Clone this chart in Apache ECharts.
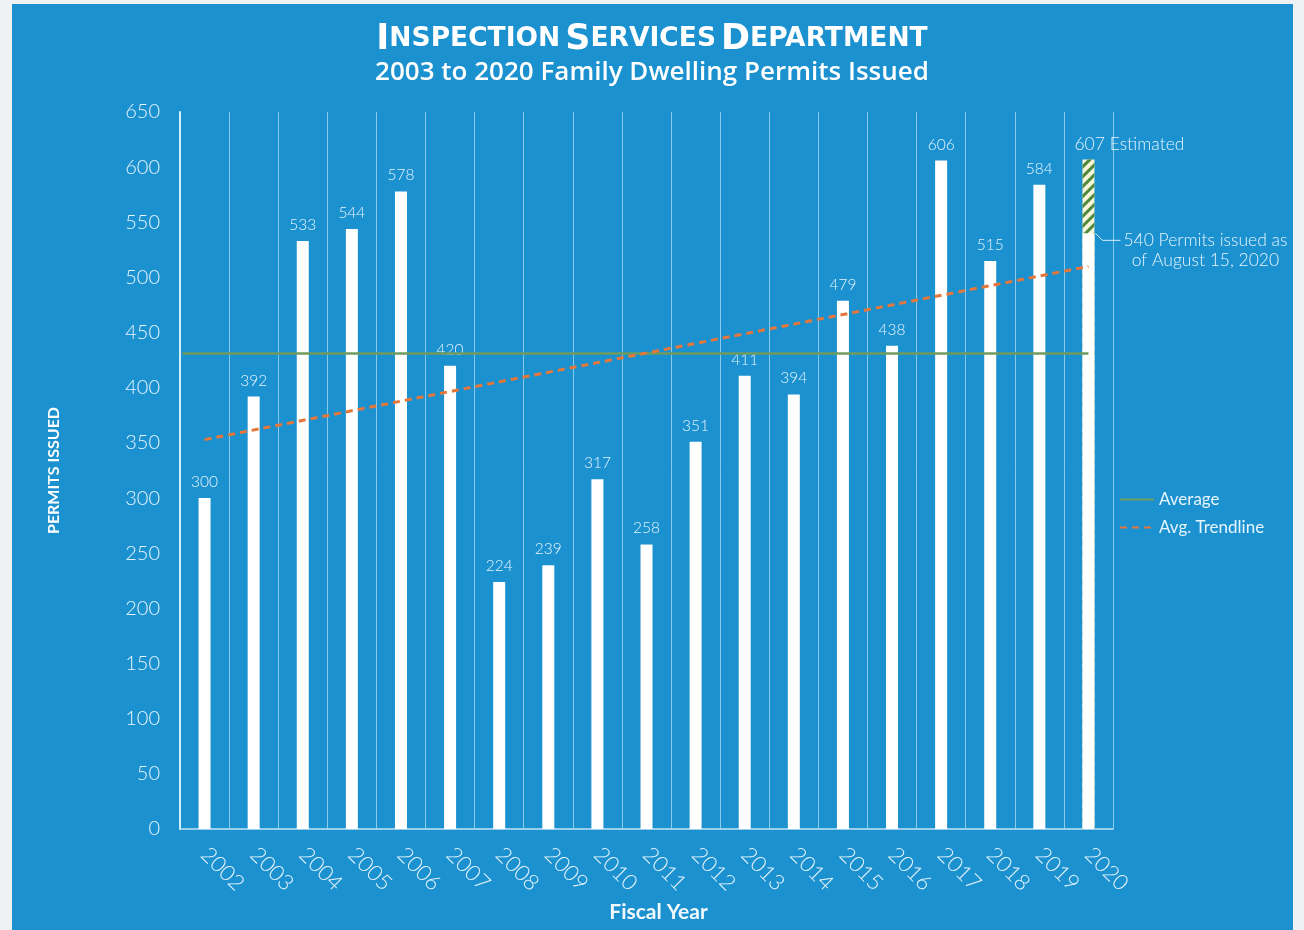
<!DOCTYPE html>
<html>
<head>
<meta charset="utf-8">
<title>Inspection Services Department – Family Dwelling Permits</title>
<script src="https://cdn.jsdelivr.net/npm/echarts@6/dist/echarts.min.js"></script>
<style>
  html, body { margin: 0; padding: 0; background: #eef2f5; overflow: hidden; }
  #panel { position: absolute; left: 12px; top: 4px; width: 1281px; height: 926px; background: #1b91d0; }
  #chart { position: absolute; left: 0; top: 0; width: 1304px; height: 930px; }
</style>
</head>
<body>
<div id="panel"></div>
<div id="chart"></div>
<script>
// Fiscal years shown on the x axis
const years = ['2002','2003','2004','2005','2006','2007','2008','2009','2010','2011',
               '2012','2013','2014','2015','2016','2017','2018','2019','2020'];
// Permits issued per fiscal year (2020 = issued so far)
const permits = [300, 392, 533, 544, 578, 420, 224, 239, 317, 258,
                 351, 411, 394, 479, 438, 606, 515, 584, 540];
// Year-end estimate for the current fiscal year
const estimated = ['-', '-', '-', '-', '-', '-', '-', '-', '-', '-',
                   '-', '-', '-', '-', '-', '-', '-', '-', 607];
// Reference lines: average level and the trendline end values
const averageValue = 431;
const trendEnds = [353, 510];
const issuedNote = ['Permits issued as', 'of August 15, 2020'];

const LIGHT = '#e6f4fc';
const FONT = 'Lato, "Open Sans", sans-serif';
const lastIdx = years.length - 1;

const chart = echarts.init(document.getElementById('chart'));

chart.setOption({
  backgroundColor: 'transparent',
  animation: false,
  title: {
    left: 'center',
    top: 17,
    itemGap: 3,
    text: '{b|I}{s|NSPECTION} {b|S}{s|ERVICES} {b|D}{s|EPARTMENT}',
    subtext: '2003 to 2020 Family Dwelling Permits Issued',
    textStyle: {
      rich: {
        b: { fontFamily: '"DejaVu Sans", sans-serif', fontWeight: 'bold', fontSize: 35, color: '#ffffff' },
        s: { fontFamily: '"DejaVu Sans", sans-serif', fontWeight: 'bold', fontSize: 26.5, color: '#ffffff' }
      }
    },
    subtextStyle: { fontFamily: '"Open Sans", sans-serif', fontWeight: 600, fontSize: 26, color: '#ffffff' }
  },
  legend: {
    orient: 'vertical',
    left: 1114,
    top: 486,
    itemWidth: 34,
    itemHeight: 10,
    itemGap: 11,
    itemStyle: { opacity: 0 },
    data: ['Average', 'Avg. Trendline'],
    textStyle: { color: LIGHT, fontFamily: FONT, fontSize: 17 }
  },
  grid: { left: 180, right: 191, top: 112, bottom: 101, containLabel: false, outerBoundsMode: 'none' },
  xAxis: [{
    type: 'category',
    data: years,
    name: 'Fiscal Year',
    nameLocation: 'middle',
    nameGap: 73,
    nameTextStyle: { color: '#f2f9fd', fontFamily: FONT, fontWeight: 'bold', fontSize: 21, padding: [0, 0, 0, 24] },
    axisLine: { lineStyle: { color: '#c3e4f6', width: 1.5 } },
    axisTick: { show: false },
    splitLine: { show: true, interval: 0, lineStyle: { color: 'rgba(175,220,244,0.75)', width: 1 } },
    axisLabel: { interval: 0, rotate: -45, margin: 22, color: LIGHT, fontFamily: FONT, fontWeight: 300, fontSize: 22 }
  }, {
    // hidden numeric twin of the category axis, used for the reference lines
    type: 'value',
    min: -0.5,
    max: lastIdx + 0.5,
    show: false
  }],
  yAxis: {
    type: 'value',
    min: 0,
    max: 650,
    interval: 50,
    name: 'PERMITS ISSUED',
    nameLocation: 'middle',
    nameGap: 118,
    nameRotate: 90,
    nameTextStyle: { color: '#ffffff', fontFamily: FONT, fontWeight: 'bold', fontSize: 16 },
    axisLine: { show: true, onZero: false, lineStyle: { color: '#d4eefa', width: 2 } },
    axisTick: { show: false },
    splitLine: { show: false },
    axisLabel: { margin: 20, color: LIGHT, fontFamily: FONT, fontWeight: 300, fontSize: 20 }
  },
  series: [
    {
      name: 'Estimated',
      type: 'bar',
      data: estimated,
      barWidth: 12,
      barGap: '-100%',
      z: 2,
      itemStyle: {
        color: '#f7f5da',
        decal: {
          color: '#4f8a3a',
          dashArrayX: [[1, 0]],
          dashArrayY: [3, 4],
          rotation: -Math.PI / 4,
          symbolSize: 1
        }
      },
      label: {
        show: true,
        position: 'top',
        align: 'left',
        offset: [-14, 0],
        distance: 6,
        formatter: p => p.value + ' Estimated',
        color: LIGHT,
        fontFamily: FONT,
        fontWeight: 300,
        fontSize: 17.5
      }
    },
    {
      name: 'Permits',
      type: 'bar',
      data: permits.map((v, i) => i === lastIdx ? { value: v, label: { show: false } } : v),
      barWidth: 12,
      barGap: '-100%',
      z: 3,
      itemStyle: { color: '#ffffff' },
      label: {
        show: true,
        position: 'top',
        distance: 8,
        color: LIGHT,
        fontFamily: FONT,
        fontWeight: 300,
        fontSize: 15.5
      }
    },
    {
      name: 'Average',
      type: 'line',
      xAxisIndex: 1,
      data: [[-0.45, averageValue], [lastIdx, averageValue]],
      symbol: 'none',
      z: 4,
      itemStyle: { color: '#6f9b5e' },
      lineStyle: { color: '#6f9b5e', width: 2.5 }
    },
    {
      name: 'Avg. Trendline',
      type: 'line',
      xAxisIndex: 1,
      data: [[0, trendEnds[0]], [lastIdx, trendEnds[1]]],
      symbol: 'none',
      z: 5,
      itemStyle: { color: '#e5773a' },
      lineStyle: { color: '#e5773a', width: 3, type: [7, 5] }
    },
    {
      // callout for permits issued so far in the current year
      name: 'Issued note',
      type: 'custom',
      z: 6,
      data: [[lastIdx, permits[lastIdx]]],
      renderItem: function (params, api) {
        const p = api.coord([api.value(0), api.value(1)]);
        const x0 = p[0] + 7, y0 = p[1];
        const ly = y0 + 7;
        return {
          type: 'group',
          children: [
            {
              type: 'polyline',
              shape: { points: [[x0, y0], [x0 + 7, ly], [x0 + 25, ly]] },
              style: { stroke: '#d8eefa', lineWidth: 1, fill: null }
            },
            {
              type: 'text',
              style: {
                x: x0 + 110,
                y: ly - 10,
                text: api.value(1) + ' ' + issuedNote[0] + '\n' + issuedNote[1],
                align: 'center',
                verticalAlign: 'top',
                lineHeight: 20,
                fill: LIGHT,
                font: '300 17.5px ' + FONT
              }
            }
          ]
        };
      }
    }
  ]
});
</script>
</body>
</html>
